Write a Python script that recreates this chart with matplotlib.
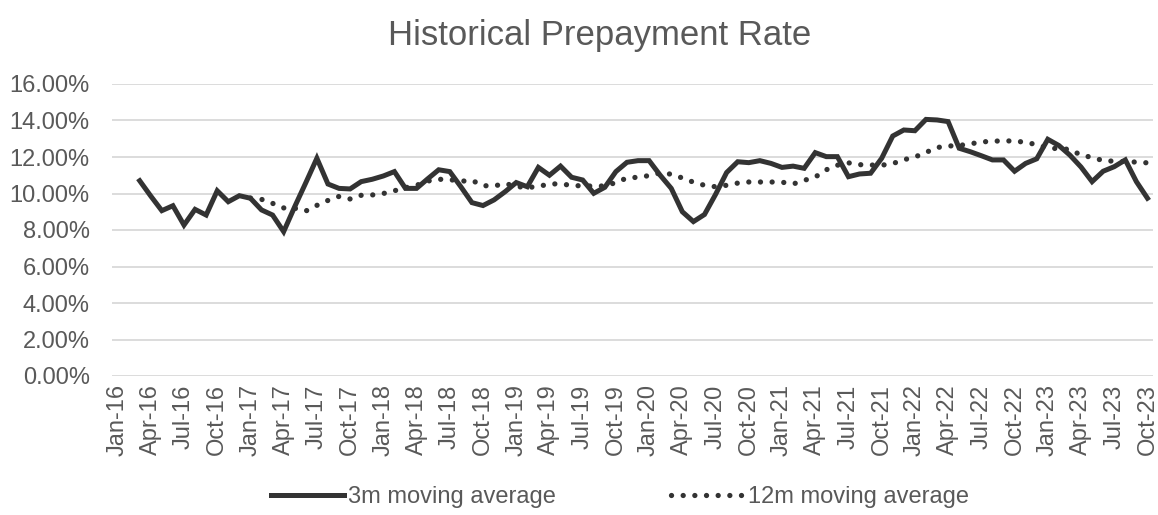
import numpy as np
import pandas as pd
import matplotlib
matplotlib.use("Agg")
import matplotlib.pyplot as plt
from matplotlib.ticker import FuncFormatter

plt.rcParams['font.family'] = ['Liberation Sans', 'DejaVu Sans']

# monthly categories Jan-16 .. Oct-23
months = pd.date_range("2016-01-01", "2023-10-01", freq="MS")
month_labels = [d.strftime("%b-%y") for d in months]

# 3m moving average, Mar-16 .. Oct-23 (%)
ma3_start = "2016-03-01"
ma3 = [10.70, 9.86, 9.06, 9.33, 8.27, 9.13, 8.82, 10.15, 9.55, 9.88,
       9.74, 9.10, 8.82, 7.91, 9.28, 10.59, 11.93, 10.52, 10.28, 10.25,
       10.65, 10.78, 10.96, 11.20, 10.28, 10.28, 10.80, 11.30, 11.20, 10.37,
       9.50, 9.34, 9.65, 10.10, 10.60, 10.37, 11.43, 11.00, 11.50, 10.89,
       10.74, 10.01, 10.34, 11.20, 11.71, 11.80, 11.80, 11.00, 10.28, 9.00,
       8.46, 8.85, 9.95, 11.15, 11.74, 11.69, 11.80, 11.65, 11.43, 11.50,
       11.38, 12.24, 12.02, 12.02, 10.92, 11.07, 11.11, 11.93, 13.15, 13.48,
       13.44, 14.06, 14.03, 13.94, 12.48, 12.29, 12.07, 11.84, 11.84, 11.22,
       11.65, 11.90, 12.97, 12.63, 12.10, 11.45, 10.65, 11.22, 11.47, 11.84,
       10.65, 9.74]

# 12m moving average, Jan-17 .. Oct-23 (%)
ma12_start = "2017-01-01"
ma12 = [9.75, 9.68, 9.46, 9.21, 9.19, 9.04, 9.35, 9.62, 9.84, 9.70,
        9.90, 9.92, 10.00, 10.15, 10.32, 10.45, 10.68, 10.78, 10.76, 10.67,
        10.72, 10.43, 10.41, 10.55, 10.38, 10.33, 10.38, 10.53, 10.52, 10.45,
        10.41, 10.41, 10.41, 10.60, 10.85, 10.89, 10.98, 11.12, 11.06, 10.85,
        10.62, 10.45, 10.37, 10.45, 10.57, 10.63, 10.63, 10.63, 10.62, 10.52,
        10.72, 10.90, 11.30, 11.55, 11.68, 11.58, 11.56, 11.55, 11.64, 11.85,
        12.00, 12.25, 12.52, 12.60, 12.63, 12.72, 12.82, 12.87, 12.88, 12.88,
        12.80, 12.68, 12.50, 12.45, 12.42, 12.10, 11.98, 11.80, 11.77, 11.75,
        11.72, 11.68]

line_col = '#333333'
text_col = '#595959'

i3 = list(months).index(pd.Timestamp(ma3_start))
i12 = list(months).index(pd.Timestamp(ma12_start))
x3 = np.arange(i3, i3 + len(ma3))
x12 = np.arange(i12, i12 + len(ma12))

fig = plt.figure(figsize=(11.58, 5.15), dpi=100)
ax = fig.add_axes([112 / 1158, 1 - 376 / 515, (1153 - 112) / 1158, (376 - 84) / 515])

ax.plot(x3, np.array(ma3) / 100, color=line_col, lw=3.6,
        solid_joinstyle='miter', label='3m moving average')
ax.plot(x12, np.array(ma12) / 100, color=line_col, lw=3.8,
        linestyle=(0, (0.01, 2.2)), dash_capstyle='round',
        label='12m moving average')

ax.set_xlim(-0.5, len(months) - 0.5)
ax.set_ylim(0, 0.16)
ax.set_yticks(np.arange(0, 0.161, 0.02))
ax.yaxis.set_major_formatter(FuncFormatter(lambda v, p: '{:.2%}'.format(v)))
ax.set_xticks(range(0, len(months), 3))
ax.set_xticklabels(month_labels[::3], rotation=90)

ax.grid(axis='y', color='#d9d9d9', lw=1.3)
ax.set_axisbelow(True)
for s in ax.spines.values():
    s.set_visible(False)
ax.tick_params(axis='y', length=0, pad=16, labelsize=17, labelcolor=text_col)
ax.tick_params(axis='x', length=0, pad=6, labelsize=17, labelcolor=text_col)

fig.text(600 / 1158, 1 - 35 / 515, 'Historical Prepayment Rate', ha='center',
         va='center', fontsize=25, color=text_col)

fig.legend(loc='center', bbox_to_anchor=(620 / 1158, 1 - 497 / 515), ncol=2,
           frameon=False, fontsize=17, labelcolor=text_col, handlelength=3.1,
           handletextpad=0.15, columnspacing=4.9, borderpad=0)

fig.savefig('out.png', dpi=100)
